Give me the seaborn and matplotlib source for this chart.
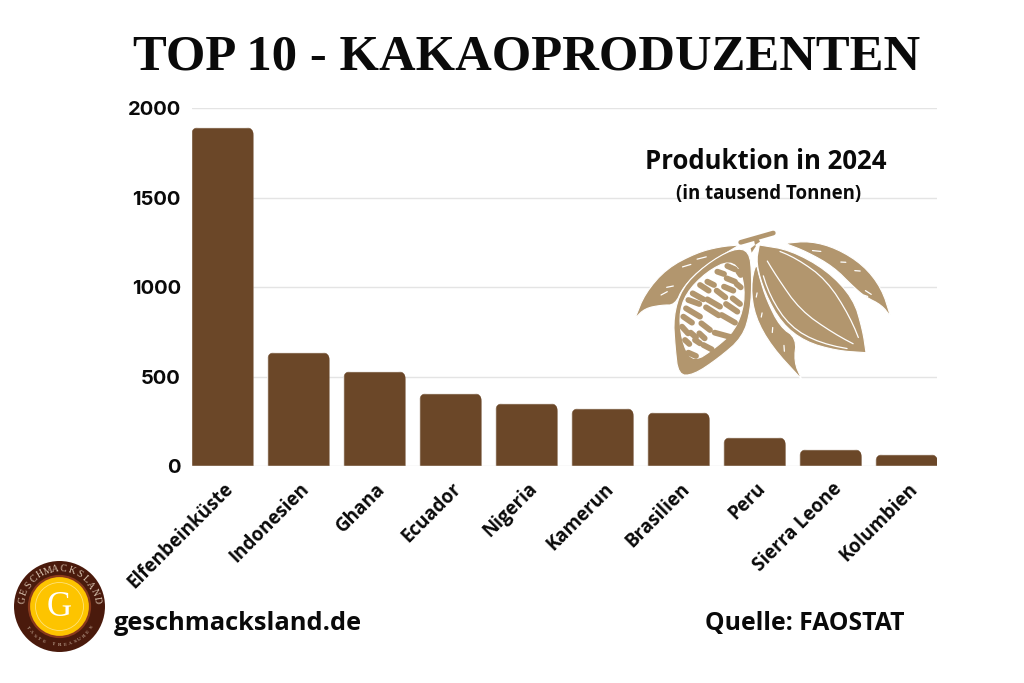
import numpy as np
import pandas as pd
import seaborn as sns
import matplotlib.pyplot as plt
import matplotlib.transforms as mtrans
from matplotlib.patches import Circle, FancyBboxPatch, Polygon

countries = ['Elfenbeinküste', 'Indonesien', 'Ghana', 'Ecuador', 'Nigeria',
             'Kamerun', 'Brasilien', 'Peru', 'Sierra Leone', 'Kolumbien']
production = [1893, 636, 530, 407, 351, 323, 301, 161, 94, 66]
y_ticks = [0, 500, 1000, 1500, 2000]

BROWN = '#6b4728'
TAN = '#b2966e'
TEXT = '#0a0a0a'
DPI = 100


def smooth(points, rounds=2, closed=True):
    # Chaikin corner cutting, keeps the hand traced outlines from looking jagged
    pts = np.array(points, dtype=float)
    for _ in range(rounds):
        nxt = np.roll(pts, -1, axis=0) if closed else pts[1:]
        cur = pts if closed else pts[:-1]
        new = np.empty((len(cur) * 2, 2))
        new[0::2] = 0.75 * cur + 0.25 * nxt
        new[1::2] = 0.25 * cur + 0.75 * nxt
        pts = new
    return pts


def to_px(points):
    return np.array(points, dtype=float) / 3 + [620, 130]


def draw_pod(ax):
    shapes = [
        # left leaf
        ([(45, 565), (45, 565), (75, 490), (140, 415), (230, 368), (300, 350), (358, 345), (358, 345),
          (250, 410), (190, 470), (165, 525), (125, 525), (75, 535)], TAN),
        # right leaf
        ([(495, 340), (495, 340), (570, 333), (650, 355), (730, 405), (785, 475), (812, 560), (812, 560),
          (785, 525), (735, 500), (700, 470), (640, 410), (560, 365)], TAN),
        # bottom leaf
        ([(408, 395), (392, 470), (405, 560), (455, 650), (545, 748), (545, 748),
          (522, 695), (530, 625), (480, 590), (440, 510), (418, 440)], TAN),
        # left pod
        ([(388, 362), (340, 355), (255, 405), (185, 475), (160, 560), (165, 650),
          (175, 735), (220, 735), (295, 685), (368, 622), (392, 540), (396, 440)], TAN),
        # left pod, opened part
        ([(330, 390), (260, 425), (197, 490), (176, 560), (190, 650), (222, 696),
          (285, 655), (345, 602), (375, 520), (368, 430)], 'white'),
        # right pod
        ([(418, 345), (418, 345), (510, 360), (620, 420), (700, 505), (728, 600), (738, 668), (738, 668),
          (650, 662), (555, 635), (485, 580), (435, 490), (408, 400)], TAN),
    ]
    for pts, col in shapes:
        ax.add_patch(Polygon(to_px(smooth(pts)), closed=True, fc=col, ec='white', lw=0.8))

    # seeds in the opened pod
    seeds = [((322, 408), (345, 418)), ((292, 425), (312, 432)), ((320, 445), (345, 455)),
             ((355, 425), (362, 435)), ((262, 455), (282, 465)), ((312, 470), (340, 482)),
             ((350, 462), (362, 472)), ((240, 465), (266, 482)), ((290, 482), (316, 502)),
             ((338, 505), (360, 522)), ((218, 490), (250, 508)), ((262, 508), (300, 530)),
             ((205, 510), (238, 522)), ((318, 522), (352, 545)), ((198, 535), (240, 560)),
             ((258, 532), (296, 556)), ((190, 560), (216, 578)), ((305, 555), (345, 578)),
             ((244, 580), (270, 600)), ((186, 590), (204, 610)), ((284, 608), (335, 622)),
             ((212, 608), (228, 622)), ((238, 610), (254, 625)), ((225, 630), (240, 640)),
             ((250, 645), (275, 658)), ((205, 668), (228, 678)), ((195, 630), (208, 642))]
    for a, b in seeds:
        xy = to_px([a, b])
        ax.plot(xy[:, 0], xy[:, 1], color=TAN, lw=4.2, solid_capstyle='round')

    # white veins
    veins = [
        [(425, 365), (470, 440), (540, 540), (640, 610), (735, 660)],
        [(450, 352), (530, 385), (620, 450), (690, 560), (730, 660)],
        [(418, 400), (450, 500), (510, 590), (600, 640), (730, 665)],
        [(150, 422), (250, 392)], [(110, 478), (190, 462)], [(95, 510), (170, 470)],
        [(190, 398), (300, 370)], [(540, 358), (640, 368)], [(640, 395), (700, 398)],
        [(680, 420), (745, 425)], [(710, 465), (780, 510)], [(715, 490), (760, 505)],
        [(415, 470), (405, 520)], [(430, 530), (420, 580)], [(460, 570), (455, 630)],
        [(490, 620), (495, 690)],
    ]
    for v in veins:
        xy = to_px(smooth(v, 2, closed=False))
        ax.plot(xy[:, 0], xy[:, 1], color='white', lw=0.9)

    # stem
    stem = to_px([(362, 337), (460, 309)])
    ax.plot(stem[:, 0], stem[:, 1], color=TAN, lw=3.4, solid_capstyle='round')
    ax.add_patch(Polygon(to_px([(408, 348), (395, 368), (392, 355), (405, 345)]), fc=TAN, ec='none'))
    ax.add_patch(Polygon(to_px([(412, 320), (420, 335), (405, 345), (402, 330)]), fc=TAN, ec='none'))


def arc_text(ax, txt, cx, cy, r, start, end, top=True, size=5, color='#d9c4b0'):
    for ch, ang in zip(txt, np.linspace(start, end, len(txt))):
        a = np.radians(ang)
        x, y = cx + r * np.cos(a), cy - r * np.sin(a)
        rot = ang - 90 if top else ang + 90
        ax.text(x, y, ch, fontsize=size, family='Liberation Serif', color=color,
                rotation=rot, ha='center', va='center', rotation_mode='anchor')


def draw_logo(ax):
    cx, cy = 59.5, 606.5
    ax.add_patch(Circle((cx, cy), 45.5, fc='#4a1a0c', ec='none'))
    ax.add_patch(Circle((cx, cy), 30.5, fc='#fdc400', ec='#8a3a1c', lw=1.6))
    ax.add_patch(Circle((cx, cy), 24, fc='none', ec='#fde27a', lw=0.6))
    ax.text(cx, cy + 1, 'G', fontsize=25, family='Liberation Serif', color='white',
            ha='center', va='center')
    arc_text(ax, 'GESCHMACKSLAND', cx, cy, 37.5, 170, 10, size=7)
    arc_text(ax, 'TASTE TREASURES', cx, cy, 38.5, 213, 327, top=False, size=3.8)


sns.set_theme(style='white')
fig = plt.figure(figsize=(10.24, 6.83), dpi=DPI, facecolor='white')
ax = fig.add_axes([192 / 1024, (683 - 466) / 683, (937 - 192) / 1024, (466 - 108) / 683])

df = pd.DataFrame({'Land': countries, 'Produktion': production})
sns.barplot(data=df, x='Land', y='Produktion', color=BROWN, saturation=1, width=0.82, ax=ax, zorder=3)

ax.set_xlim(-0.4, 9.4)
ax.set_ylim(0, 2000)
ax.set_yticks(y_ticks)
ax.set_xlabel('')
ax.set_ylabel('')
ax.grid(axis='y', color='#e4e4e4', lw=1)
ax.set_axisbelow(True)
sns.despine(ax=ax, left=True, bottom=True)
ax.tick_params(axis='both', length=0)
ax.tick_params(axis='y', pad=8)
for lab in ax.get_yticklabels():
    lab.set(family='Inter', fontweight='bold', fontsize=14.5, color=TEXT)

shift = mtrans.ScaledTranslation(1 / DPI, -8 / DPI, fig.dpi_scale_trans)
ax.set_xticks(range(len(countries)))
ax.set_xticklabels(countries, rotation=45, ha='right', rotation_mode='anchor')
for lab in ax.get_xticklabels():
    lab.set(family='Open Sans', fontweight='bold', fontsize=13.5, color=TEXT)
    lab.set_transform(lab.get_transform() + shift)

# round the top corners of the bars, the lower edge stays square
fig.canvas.draw()
for bar in ax.patches:
    box = bar.get_window_extent()
    clip = FancyBboxPatch((box.x0, box.y0 - 20), box.width, box.height + 20,
                          boxstyle='round,pad=0,rounding_size=8',
                          transform=mtrans.IdentityTransform())
    bar.set_clip_path(clip)

# overlay in picture pixels for the free standing texts and the artwork
over = fig.add_axes([0, 0, 1, 1], zorder=5)
over.set_xlim(0, 1024)
over.set_ylim(683, 0)
over.axis('off')
over.patch.set_alpha(0)

over.text(527, 57, 'TOP 10 - KAKAOPRODUZENTEN', family='Liberation Serif', fontweight='bold',
          fontsize=36.5, color=TEXT, ha='center', va='center')
over.text(766, 161.5, 'Produktion in 2024', family='Open Sans', fontweight='bold',
          fontsize=18.5, color=TEXT, ha='center', va='center')
over.text(768.5, 194, '(in tausend Tonnen)', family='Open Sans', fontweight='bold',
          fontsize=13.4, color=TEXT, ha='center', va='center')
over.text(114, 624, 'geschmacksland.de', family='Open Sans', fontweight='bold',
          fontsize=18.3, color=TEXT, ha='left', va='center')
over.text(705, 623.5, 'Quelle: FAOSTAT', family='Open Sans', fontweight='bold',
          fontsize=17.8, color=TEXT, ha='left', va='center')

draw_pod(over)
draw_logo(over)

fig.savefig('out.png', dpi=DPI)
